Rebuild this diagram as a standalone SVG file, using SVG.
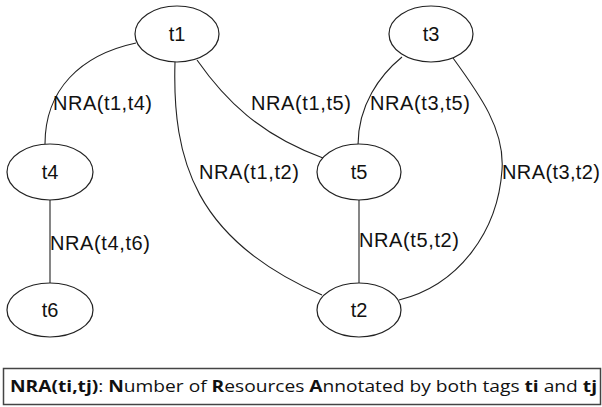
<svg xmlns="http://www.w3.org/2000/svg" width="602" height="407" viewBox="0 0 602 407">
<style>
.node ellipse{fill:#fff;stroke:#222;stroke-width:1.2}
.node text{font-family:"Liberation Sans",Arial,sans-serif;font-size:20px;fill:#111;text-anchor:middle}
.edges path{fill:none;stroke:#222;stroke-width:1.1}
.lbl{font-family:"Liberation Sans",Arial,sans-serif;font-size:20px;fill:#111}
.legend text{font-family:"Open Sans","Noto Sans",sans-serif;font-size:16px;fill:#111}
.b{font-weight:bold}
</style>
<rect width="602" height="407" fill="#fff"/>
<g class="edges">
<path d="M136,43 C80,55 45,90 45,144"/>
<path d="M50,199 L50,283"/>
<path d="M175,62 C172,160 195,240 322,295"/>
<path d="M197,60 C225,100 260,135 323,158"/>
<path d="M402,57 C380,75 358,105 358,145"/>
<path d="M453,58 C480,95 505,130 502,170 C498,230 460,285 399,300"/>
<path d="M359,200 L359,283"/>
<text class="lbl" x="53" y="110" textLength="99">NRA(t1,t4)</text>
<text class="lbl" x="251" y="110" textLength="100">NRA(t1,t5)</text>
<text class="lbl" x="370" y="110" textLength="100">NRA(t3,t5)</text>
<text class="lbl" x="199" y="179" textLength="100">NRA(t1,t2)</text>
<text class="lbl" x="502" y="179" textLength="98">NRA(t3,t2)</text>
<text class="lbl" x="50" y="250" textLength="100">NRA(t4,t6)</text>
<text class="lbl" x="359" y="247" textLength="100">NRA(t5,t2)</text>
</g>
<g id="t1" class="node"><ellipse cx="177" cy="34" rx="42" ry="28"/><text x="177" y="41">t1</text></g>
<g id="t3" class="node"><ellipse cx="431" cy="34" rx="42" ry="28"/><text x="431" y="41">t3</text></g>
<g id="t4" class="node"><ellipse cx="50" cy="172" rx="43" ry="28"/><text x="50" y="179">t4</text></g>
<g id="t5" class="node"><ellipse cx="359" cy="172" rx="42" ry="28"/><text x="359" y="179">t5</text></g>
<g id="t6" class="node"><ellipse cx="50" cy="310" rx="43" ry="27"/><text x="50" y="317">t6</text></g>
<g id="t2" class="node"><ellipse cx="359" cy="310" rx="42" ry="27"/><text x="359" y="317">t2</text></g>
<g id="legend" class="legend">
<rect x="3.5" y="368.5" width="597" height="36" fill="#fff" stroke="#444" stroke-width="1.5"/>
<text x="10" y="392" textLength="587" lengthAdjust="spacingAndGlyphs"><tspan class="b">NRA(ti,tj)</tspan>: <tspan class="b">N</tspan>umber of <tspan class="b">R</tspan>esources <tspan class="b">A</tspan>nnotated by both tags <tspan class="b">ti</tspan> and <tspan class="b">tj</tspan></text>
</g>
</svg>
